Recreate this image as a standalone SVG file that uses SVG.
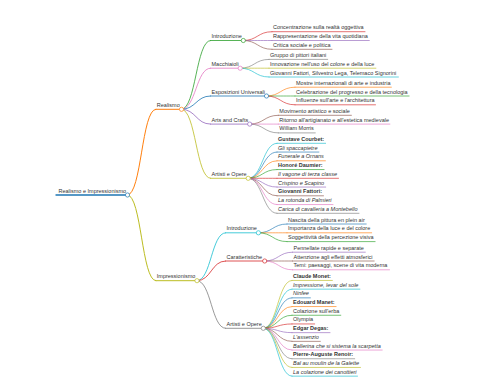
<svg xmlns="http://www.w3.org/2000/svg" width="480" height="384" viewBox="0 0 480 384">
<style>
.t{font-family:"Liberation Sans",Arial,sans-serif;font-size:5.5px;fill:#333}
.b{font-weight:bold}
.i{font-style:italic}
path,line{fill:none;stroke-linecap:round}
circle{fill:#fff;stroke-width:0.7}
.w0{stroke-width:1.4}.w1{stroke-width:1}.w2{stroke-width:0.8}.w3{stroke-width:0.65}
.k0{stroke:#1f77b4}.k1{stroke:#ff7f0e}.k2{stroke:#2ca02c}.k3{stroke:#d62728}.k4{stroke:#9467bd}
.k5{stroke:#8c564b}.k6{stroke:#e377c2}.k7{stroke:#7f7f7f}.k8{stroke:#bcbd22}.k9{stroke:#17becf}
</style>
<rect width="480" height="384" fill="#fff"/>
<g id="connectors">
<path class="k1 w1" d="M127.5,195C141.6,195 141.6,109.3 155.8,109.3"/>
<path class="k8 w1" d="M127.5,195C141.6,195 141.6,280.7 155.8,280.7"/>
<path class="k2 w2" d="M181.5,109.3C196,109.3 196,40.5 210.5,40.5"/>
<path class="k6 w2" d="M181.5,109.3C196,109.3 196,68.2 210.5,68.2"/>
<path class="k0 w2" d="M181.5,109.3C196,109.3 196,96 210.5,96"/>
<path class="k4 w2" d="M181.5,109.3C196,109.3 196,124.1 210.5,124.1"/>
<path class="k8 w2" d="M181.5,109.3C196,109.3 196,178.3 210.5,178.3"/>
<path class="k9 w2" d="M197,280.7C211.3,280.7 211.3,232.8 225.6,232.8"/>
<path class="k3 w2" d="M197,280.7C211.3,280.7 211.3,261 225.6,261"/>
<path class="k7 w2" d="M197,280.7C211.3,280.7 211.3,328.3 225.6,328.3"/>
<path class="k3 w3" d="M243.3,40.5C257.6,40.5 257.6,31.7 272,31.7"/>
<path class="k4 w3" d="M243.3,40.5C257.6,40.5 257.6,40.5 272,40.5"/>
<path class="k5 w3" d="M243.3,40.5C257.6,40.5 257.6,49.3 272,49.3"/>
<path class="k7 w3" d="M240.2,68.2C254.6,68.2 254.6,59.4 269,59.4"/>
<path class="k8 w3" d="M240.2,68.2C254.6,68.2 254.6,68.2 269,68.2"/>
<path class="k9 w3" d="M240.2,68.2C254.6,68.2 254.6,77 269,77"/>
<path class="k1 w3" d="M266.5,96C280.7,96 280.7,87.2 295,87.2"/>
<path class="k2 w3" d="M266.5,96C280.7,96 280.7,96 295,96"/>
<path class="k3 w3" d="M266.5,96C280.7,96 280.7,104.8 295,104.8"/>
<path class="k5 w3" d="M249.7,124.1C264,124.1 264,115.3 278.3,115.3"/>
<path class="k6 w3" d="M249.7,124.1C264,124.1 264,124.1 278.3,124.1"/>
<path class="k7 w3" d="M249.7,124.1C264,124.1 264,132.9 278.3,132.9"/>
<path class="k9 w3" d="M248.2,178.3C262.6,178.3 262.6,143.3 277,143.3"/>
<path class="k0 w3" d="M248.2,178.3C262.6,178.3 262.6,152.05 277,152.05"/>
<path class="k1 w3" d="M248.2,178.3C262.6,178.3 262.6,160.8 277,160.8"/>
<path class="k2 w3" d="M248.2,178.3C262.6,178.3 262.6,169.55 277,169.55"/>
<path class="k3 w3" d="M248.2,178.3C262.6,178.3 262.6,178.3 277,178.3"/>
<path class="k4 w3" d="M248.2,178.3C262.6,178.3 262.6,187.05 277,187.05"/>
<path class="k5 w3" d="M248.2,178.3C262.6,178.3 262.6,195.8 277,195.8"/>
<path class="k6 w3" d="M248.2,178.3C262.6,178.3 262.6,204.55 277,204.55"/>
<path class="k7 w3" d="M248.2,178.3C262.6,178.3 262.6,213.3 277,213.3"/>
<path class="k0 w3" d="M258.4,232.8C272.7,232.8 272.7,224 287,224"/>
<path class="k1 w3" d="M258.4,232.8C272.7,232.8 272.7,232.8 287,232.8"/>
<path class="k2 w3" d="M258.4,232.8C272.7,232.8 272.7,241.6 287,241.6"/>
<path class="k4 w3" d="M264.7,261C278.6,261 278.6,252.2 292.5,252.2"/>
<path class="k5 w3" d="M264.7,261C278.6,261 278.6,261 292.5,261"/>
<path class="k6 w3" d="M264.7,261C278.6,261 278.6,269.8 292.5,269.8"/>
<path class="k8 w3" d="M263.3,328.3C277.6,328.3 277.6,280.45 292,280.45"/>
<path class="k9 w3" d="M263.3,328.3C277.6,328.3 277.6,289.15 292,289.15"/>
<path class="k0 w3" d="M263.3,328.3C277.6,328.3 277.6,297.85 292,297.85"/>
<path class="k1 w3" d="M263.3,328.3C277.6,328.3 277.6,306.55 292,306.55"/>
<path class="k2 w3" d="M263.3,328.3C277.6,328.3 277.6,315.25 292,315.25"/>
<path class="k3 w3" d="M263.3,328.3C277.6,328.3 277.6,323.95 292,323.95"/>
<path class="k4 w3" d="M263.3,328.3C277.6,328.3 277.6,332.65 292,332.65"/>
<path class="k5 w3" d="M263.3,328.3C277.6,328.3 277.6,341.35 292,341.35"/>
<path class="k6 w3" d="M263.3,328.3C277.6,328.3 277.6,350.05 292,350.05"/>
<path class="k7 w3" d="M263.3,328.3C277.6,328.3 277.6,358.75 292,358.75"/>
<path class="k8 w3" d="M263.3,328.3C277.6,328.3 277.6,367.45 292,367.45"/>
<path class="k9 w3" d="M263.3,328.3C277.6,328.3 277.6,376.15 292,376.15"/>
</g>
<g id="root"><line class="k0 w0" x1="56" y1="195" x2="127.5" y2="195"/><text class="t" x="58.5" y="192.5">Realismo e Impressionismo</text><circle class="k0" cx="127.5" cy="195" r="2.1"/></g>
<g id="realismo"><line class="k1 w1" x1="155.8" y1="109.3" x2="181.5" y2="109.3"/><text class="t" x="156.8" y="106.8">Realismo</text><circle class="k1" cx="181.5" cy="109.3" r="2.1"/></g>
<g id="impressionismo"><line class="k8 w1" x1="155.8" y1="280.7" x2="197" y2="280.7"/><text class="t" x="156.8" y="278.2">Impressionismo</text><circle class="k8" cx="197" cy="280.7" r="2.1"/></g>
<g id="r-introduzione"><line class="k2 w2" x1="210.5" y1="40.5" x2="243.3" y2="40.5"/><text class="t" x="211.5" y="38">Introduzione</text><circle class="k2" cx="243.3" cy="40.5" r="2.1"/></g>
<g id="r-macchiaioli"><line class="k6 w2" x1="210.5" y1="68.2" x2="240.2" y2="68.2"/><text class="t" x="211.5" y="65.7">Macchiaioli</text><circle class="k6" cx="240.2" cy="68.2" r="2.1"/></g>
<g id="r-esposizioni"><line class="k0 w2" x1="210.5" y1="96" x2="266.5" y2="96"/><text class="t" x="211.5" y="93.5">Esposizioni Universali</text><circle class="k0" cx="266.5" cy="96" r="2.1"/></g>
<g id="r-arts"><line class="k4 w2" x1="210.5" y1="124.1" x2="249.7" y2="124.1"/><text class="t" x="211.5" y="121.6">Arts and Crafts</text><circle class="k4" cx="249.7" cy="124.1" r="2.1"/></g>
<g id="r-artisti"><line class="k8 w2" x1="210.5" y1="178.3" x2="248.2" y2="178.3"/><text class="t" x="211.5" y="175.8">Artisti e Opere</text><circle class="k8" cx="248.2" cy="178.3" r="2.1"/></g>
<g id="i-introduzione"><line class="k9 w2" x1="225.6" y1="232.8" x2="258.4" y2="232.8"/><text class="t" x="226.6" y="230.3">Introduzione</text><circle class="k9" cx="258.4" cy="232.8" r="2.1"/></g>
<g id="i-caratteristiche"><line class="k3 w2" x1="225.6" y1="261" x2="264.7" y2="261"/><text class="t" x="226.6" y="258.5">Caratteristiche</text><circle class="k3" cx="264.7" cy="261" r="2.1"/></g>
<g id="i-artisti"><line class="k7 w2" x1="225.6" y1="328.3" x2="263.3" y2="328.3"/><text class="t" x="226.6" y="325.8">Artisti e Opere</text><circle class="k7" cx="263.3" cy="328.3" r="2.1"/></g>
<g id="l1"><line class="k3 w3" x1="272" y1="31.7" x2="365" y2="31.7"/><text class="t" x="273" y="29.2">Concentrazione sulla realtà oggettiva</text></g>
<g id="l2"><line class="k4 w3" x1="272" y1="40.5" x2="369.3" y2="40.5"/><text class="t" x="273" y="38">Rappresentazione della vita quotidiana</text></g>
<g id="l3"><line class="k5 w3" x1="272" y1="49.3" x2="332" y2="49.3"/><text class="t" x="273" y="46.8">Critica sociale e politica</text></g>
<g id="l4"><line class="k7 w3" x1="269" y1="59.4" x2="327.7" y2="59.4"/><text class="t" x="270" y="56.9">Gruppo di pittori italiani</text></g>
<g id="l5"><line class="k8 w3" x1="269" y1="68.2" x2="375.9" y2="68.2"/><text class="t" x="270" y="65.7">Innovazione nell'uso del colore e della luce</text></g>
<g id="l6"><line class="k9 w3" x1="269" y1="77" x2="398.4" y2="77"/><text class="t" x="270" y="74.5">Giovanni Fattori, Silvestro Lega, Telemaco Signorini</text></g>
<g id="l7"><line class="k1 w3" x1="295" y1="87.2" x2="391.4" y2="87.2"/><text class="t" x="296" y="84.7">Mostre internazionali di arte e industria</text></g>
<g id="l8"><line class="k2 w3" x1="295" y1="96" x2="409.1" y2="96"/><text class="t" x="296" y="93.5">Celebrazione del progresso e della tecnologia</text></g>
<g id="l9"><line class="k3 w3" x1="295" y1="104.8" x2="375.5" y2="104.8"/><text class="t" x="296" y="102.3">Influenze sull'arte e l'architettura</text></g>
<g id="l10"><line class="k5 w3" x1="278.3" y1="115.3" x2="351.4" y2="115.3"/><text class="t" x="279.3" y="112.8">Movimento artistico e sociale</text></g>
<g id="l11"><line class="k6 w3" x1="278.3" y1="124.1" x2="389.9" y2="124.1"/><text class="t" x="279.3" y="121.6">Ritorno all'artigianato e all'estetica medievale</text></g>
<g id="l12"><line class="k7 w3" x1="278.3" y1="132.9" x2="315.3" y2="132.9"/><text class="t" x="279.3" y="130.4">William Morris</text></g>
<g id="l13"><line class="k9 w3" x1="277" y1="143.3" x2="325.6" y2="143.3"/><text class="t b" x="278" y="140.8">Gustave Courbet:</text></g>
<g id="l14"><line class="k0 w3" x1="277" y1="152.05" x2="318.9" y2="152.05"/><text class="t i" x="278" y="149.55">Gli spaccapietre</text></g>
<g id="l15"><line class="k1 w3" x1="277" y1="160.8" x2="325.4" y2="160.8"/><text class="t i" x="278" y="158.3">Funerale a Ornans</text></g>
<g id="l16"><line class="k2 w3" x1="277" y1="169.55" x2="324.1" y2="169.55"/><text class="t b" x="278" y="167.05">Honoré Daumier:</text></g>
<g id="l17"><line class="k3 w3" x1="277" y1="178.3" x2="338.5" y2="178.3"/><text class="t i" x="278" y="175.8">Il vagone di terza classe</text></g>
<g id="l18"><line class="k4 w3" x1="277" y1="187.05" x2="325.7" y2="187.05"/><text class="t i" x="278" y="184.55">Crispino e Scapino</text></g>
<g id="l19"><line class="k5 w3" x1="277" y1="195.8" x2="323.5" y2="195.8"/><text class="t b" x="278" y="193.3">Giovanni Fattori:</text></g>
<g id="l20"><line class="k6 w3" x1="277" y1="204.55" x2="333" y2="204.55"/><text class="t i" x="278" y="202.05">La rotonda di Palmieri</text></g>
<g id="l21"><line class="k7 w3" x1="277" y1="213.3" x2="359" y2="213.3"/><text class="t i" x="278" y="210.8">Carica di cavalleria a Montebello</text></g>
<g id="l22"><line class="k0 w3" x1="287" y1="224" x2="366.2" y2="224"/><text class="t" x="288" y="221.5">Nascita della pittura en plein air</text></g>
<g id="l23"><line class="k1 w3" x1="287" y1="232.8" x2="371.7" y2="232.8"/><text class="t" x="288" y="230.3">Importanza della luce e del colore</text></g>
<g id="l24"><line class="k2 w3" x1="287" y1="241.6" x2="375.1" y2="241.6"/><text class="t" x="288" y="239.1">Soggettività della percezione visiva</text></g>
<g id="l25"><line class="k4 w3" x1="292.5" y1="252.2" x2="365.3" y2="252.2"/><text class="t" x="293.5" y="249.7">Pennellate rapide e separate</text></g>
<g id="l26"><line class="k5 w3" x1="292.5" y1="261" x2="374.2" y2="261"/><text class="t" x="293.5" y="258.5">Attenzione agli effetti atmosferici</text></g>
<g id="l27"><line class="k6 w3" x1="292.5" y1="269.8" x2="389.5" y2="269.8"/><text class="t" x="293.5" y="267.3">Temi: paesaggi, scene di vita moderna</text></g>
<g id="l28"><line class="k8 w3" x1="292" y1="280.45" x2="332.4" y2="280.45"/><text class="t b" x="293" y="277.95">Claude Monet:</text></g>
<g id="l29"><line class="k9 w3" x1="292" y1="289.15" x2="359.9" y2="289.15"/><text class="t i" x="293" y="286.65">Impressione, levar del sole</text></g>
<g id="l30"><line class="k0 w3" x1="292" y1="297.85" x2="310.4" y2="297.85"/><text class="t i" x="293" y="295.35">Ninfee</text></g>
<g id="l31"><line class="k1 w3" x1="292" y1="306.55" x2="336.1" y2="306.55"/><text class="t b" x="293" y="304.05">Edouard Manet:</text></g>
<g id="l32"><line class="k2 w3" x1="292" y1="315.25" x2="340.8" y2="315.25"/><text class="t" x="293" y="312.75">Colazione sull'erba</text></g>
<g id="l33"><line class="k3 w3" x1="292" y1="323.95" x2="314.7" y2="323.95"/><text class="t" x="293" y="321.45">Olympia</text></g>
<g id="l34"><line class="k4 w3" x1="292" y1="332.65" x2="330" y2="332.65"/><text class="t b" x="293" y="330.15">Edgar Degas:</text></g>
<g id="l35"><line class="k5 w3" x1="292" y1="341.35" x2="320.3" y2="341.35"/><text class="t i" x="293" y="338.85">L'assenzio</text></g>
<g id="l36"><line class="k6 w3" x1="292" y1="350.05" x2="382.2" y2="350.05"/><text class="t i" x="293" y="347.55">Ballerina che si sistema la scarpetta</text></g>
<g id="l37"><line class="k7 w3" x1="292" y1="358.75" x2="354.7" y2="358.75"/><text class="t b" x="293" y="356.25">Pierre-Auguste Renoir:</text></g>
<g id="l38"><line class="k8 w3" x1="292" y1="367.45" x2="360.5" y2="367.45"/><text class="t i" x="293" y="364.95">Bal au moulin de la Galette</text></g>
<g id="l39"><line class="k9 w3" x1="292" y1="376.15" x2="357.5" y2="376.15"/><text class="t i" x="293" y="373.65">La colazione dei canottieri</text></g>
</svg>
